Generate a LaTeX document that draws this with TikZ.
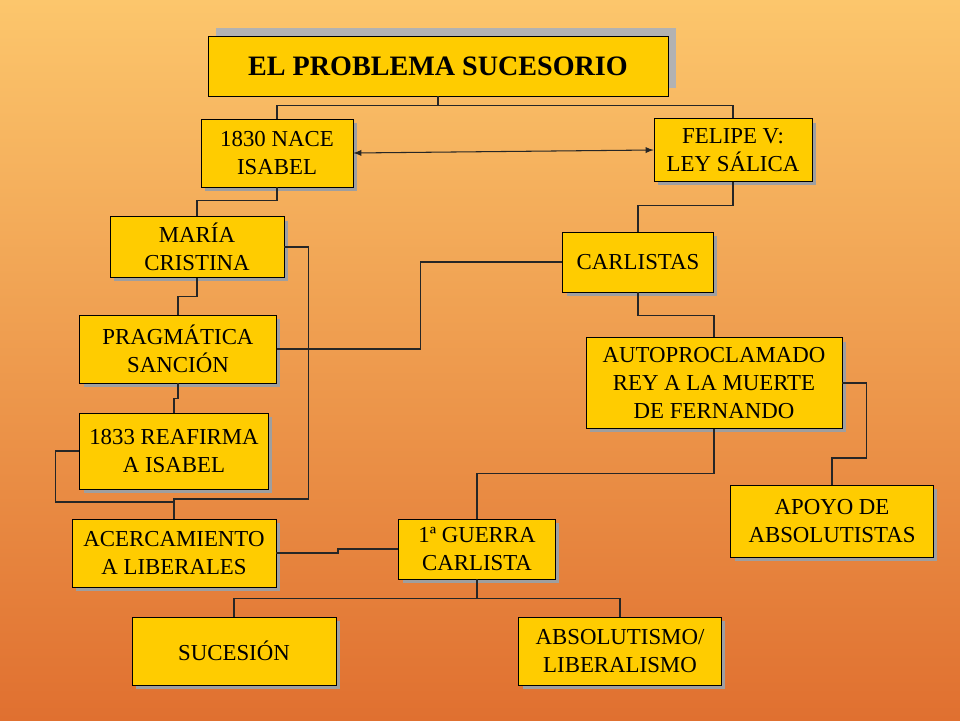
\documentclass[tikz,border=0pt]{standalone}
\usepackage{fontspec}
\setmainfont{Liberation Serif}
\usetikzlibrary{shadows}
\definecolor{boxyellow}{RGB}{255,204,0}
\definecolor{bgtop}{RGB}{252,198,108}
\definecolor{bgbottom}{RGB}{224,112,48}
\begin{document}
\begin{tikzpicture}[x=0.02cm,y=-0.02cm,
    box/.style={draw,fill=boxyellow,align=center,inner sep=0pt,font=\fontsize{13}{16}\selectfont,
        drop shadow={shadow xshift=0.08cm,shadow yshift=-0.08cm,opacity=1,fill=gray!75}},
    link/.style={draw=black!85,line width=0.6pt}]

    % background
    \shade[top color=bgtop,bottom color=bgbottom] (0,0) rectangle (960,720);
    \useasboundingbox (0,0) rectangle (960,720);

    % title
    \fill[gray!60] (216,28) rectangle (676,88);
    \node[draw,fill=boxyellow,minimum width=9.2cm,minimum height=1.2cm,
        font=\fontsize{16}{18}\selectfont\bfseries] (title) at (438,66) {EL PROBLEMA SUCESORIO};

    % boxes
    \node[box,minimum width=3.04cm,minimum height=1.36cm] (isabel) at (277,153) {1830 NACE\\ISABEL};
    \node[box,minimum width=3.16cm,minimum height=1.26cm] (felipe) at (733,150) {FELIPE V:\\LEY SÁLICA};
    \node[box,minimum width=3.48cm,minimum height=1.22cm] (maria) at (197,247) {MARÍA\\CRISTINA};
    \node[box,minimum width=3.02cm,minimum height=1.2cm] (carlistas) at (638,262) {CARLISTAS};
    \node[box,minimum width=3.94cm,minimum height=1.36cm] (pragmatica) at (178,349) {PRAGMÁTICA\\SANCIÓN};
    \node[box,minimum width=5.12cm,minimum height=1.82cm] (auto) at (714,383) {AUTOPROCLAMADO\\REY A LA MUERTE\\DE FERNANDO};
    \node[box,minimum width=3.78cm,minimum height=1.52cm] (reafirma) at (174,451) {1833 REAFIRMA\\A ISABEL};
    \node[box,minimum width=4.06cm,minimum height=1.44cm] (apoyo) at (832,521) {APOYO DE\\ABSOLUTISTAS};
    \node[box,minimum width=4.08cm,minimum height=1.36cm] (liberales) at (174,553) {ACERCAMIENTO\\A LIBERALES};
    \node[box,minimum width=3.14cm,minimum height=1.2cm] (guerra) at (477,549) {1ª GUERRA\\CARLISTA};
    \node[box,minimum width=4.08cm,minimum height=1.36cm] (sucesion) at (234,651) {SUCESIÓN};
    \node[box,minimum width=4.06cm,minimum height=1.36cm] (absol) at (620,651) {ABSOLUTISMO/\\LIBERALISMO};

    % connectors
    \draw[link] (title.south) -- ++(0,9) -| (isabel.north);
    \draw[link] (title.south) -- ++(0,9) -| (felipe.north);
    \draw[link,<->,>=latex] (isabel.east) -- (felipe.west);
    \draw[link] (isabel.south) -- ++(0,13) -| (maria.north);
    \draw[link] (maria.south) -- ++(0,19) -| (pragmatica.north);
    \draw[link] (pragmatica.south) -- ++(0,15) -| (reafirma.north);
    \draw[link] (maria.east) -- ++(24,0) |- (174,499) -- (liberales.north);
    \draw[link] (reafirma.west) -- ++(-24,0) |- (174,502);
    \draw[link] (pragmatica.east) -- ++(144,0) |- (carlistas.west);
    \draw[link] (felipe.south) -- ++(0,24) -| (carlistas.north);
    \draw[link] (carlistas.south) -- ++(0,23) -| (auto.north);
    \draw[link] (auto.south) -- ++(0,45) -| (guerra.north);
    \draw[link] (auto.east) -- ++(24,0) |- (832,458) -- (apoyo.north);
    \draw[link] (liberales.east) -- (338,553) -- (338,549) -- (guerra.west);
    \draw[link] (guerra.south) -- ++(0,19) -| (sucesion.north);
    \draw[link] (guerra.south) -- ++(0,19) -| (absol.north);
\end{tikzpicture}
\end{document}
